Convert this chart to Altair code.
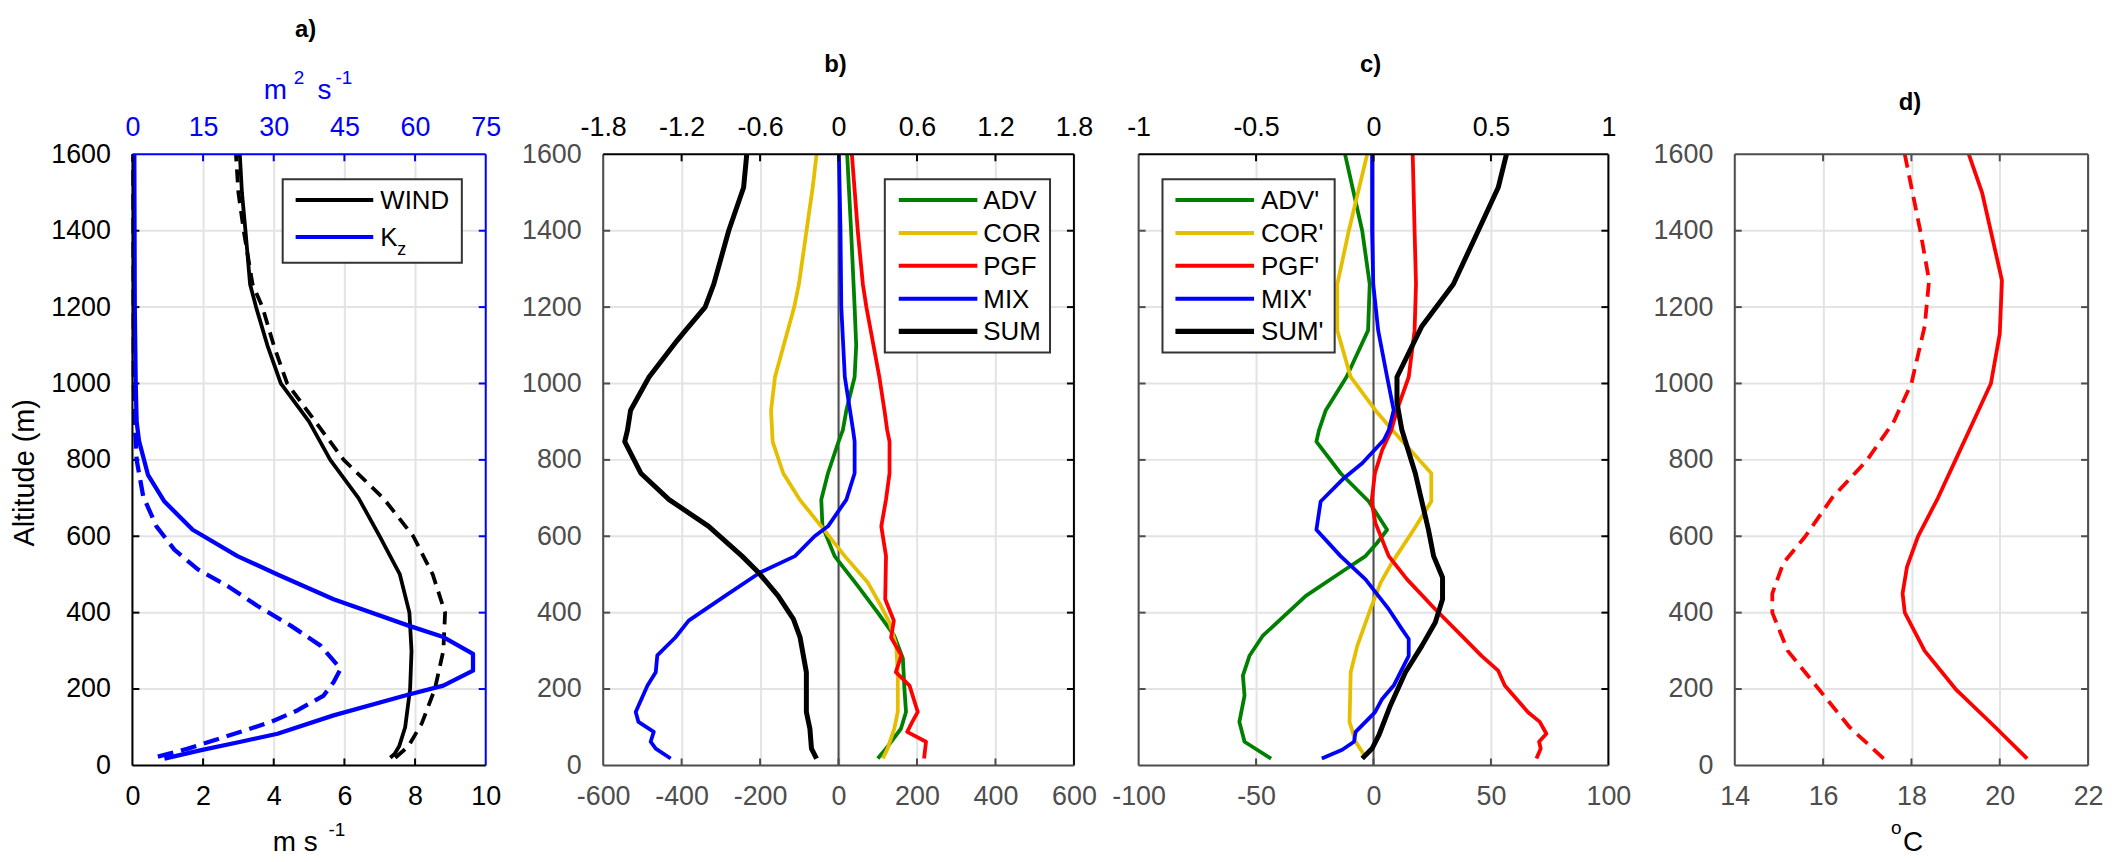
import altair as alt
import pandas as pd

FONT = "Liberation Sans"
H = 614
WA, WB, WC, WD = 355, 473, 472, 355
SP = 65                      # flush spacing between plot areas
PAD_A = 118 - SP             # extra room right of panel a
PAD_C = 127 - SP             # extra room right of panel c
GRAY = "#4d4d4d"
GRID = "#e3e3e3"
BLUE = "#0000ff"
BLACK = "#000000"
GREEN = "#008000"
YELLOW = "#e6be00"
RED = "#ff0000"
LBL = 27
TL = 7

alt_ticks = [0, 200, 400, 600, 800, 1000, 1200, 1400, 1600]

# ---------------- panel a ----------------
wind_alt = [1600, 1500, 1400, 1260, 1200, 1100, 1000, 900, 800, 700, 600, 500, 400, 300, 200, 100, 50, 30, 20]
wind_val = [3.04, 3.1, 3.2, 3.33, 3.5, 3.82, 4.2, 5.0, 5.6, 6.4, 7.0, 7.57, 7.84, 7.9, 7.86, 7.72, 7.55, 7.42, 7.3]
wind2_alt = [1600, 1500, 1400, 1260, 1200, 1100, 1000, 900, 800, 700, 600, 500, 400, 300, 200, 110, 80, 50, 20]
wind2_val = [2.93, 3.0, 3.15, 3.4, 3.68, 4.0, 4.38, 5.18, 5.98, 7.1, 7.95, 8.5, 8.85, 8.8, 8.56, 8.19, 8.0, 7.81, 7.44]
kz_alt = [1600, 1200, 1000, 900, 850, 761, 691, 617, 548, 500, 435, 366, 336, 292, 248, 209, 183, 131, 83, 62, 40, 18]
kz_val = [0.4, 0.5, 0.7, 0.9, 1.4, 3.3, 6.8, 12.8, 22.3, 30.8, 42.7, 58.6, 66, 72.3, 72.3, 66, 57.9, 42.7, 30.8, 23, 14.6, 6.8]
kz2_alt = [1600, 1000, 900, 800, 704, 626, 565, 513, 470, 418, 366, 313, 253, 218, 183, 144, 114, 88, 44, 23]
kz2_val = [0.2, 0.3, 0.5, 0.9, 2.3, 5.1, 8.9, 13.9, 20.2, 26.5, 33.6, 40, 44.2, 42.7, 40.6, 35, 29.4, 23, 11.8, 5.4]
a_bottom_ticks = [0, 2, 4, 6, 8, 10]
a_top_ticks = [0, 15, 30, 45, 60, 75]
a_legend = ["WIND", "K", "z"]

# ---------------- panel b ----------------
b_names = ["ADV", "COR", "PGF", "MIX", "SUM"]
b_adv_alt = [1600, 1400, 1200, 1100, 1017, 930, 878, 848, 765, 696, 626, 548, 470, 400, 340, 280, 200, 140, 96, 44, 18]
b_adv_val = [22, 32, 41, 45, 41, 20, 11, 0, -27, -44, -41, -10, 49, 100, 142, 164, 168, 172, 159, 121, 100]
b_cor_alt = [1600, 1520, 1260, 1200, 1017, 930, 848, 765, 696, 626, 548, 478, 418, 374, 313, 244, 140, 96, 44, 18]
b_cor_val = [-56, -65, -101, -113, -162, -172, -168, -141, -99, -44, 16, 75, 108, 130, 147, 151, 151, 142, 125, 113]
b_pgf_alt = [1600, 1400, 1260, 1200, 1017, 930, 878, 848, 765, 696, 626, 548, 435, 379, 335, 288, 244, 209, 140, 114, 88, 62, 18]
b_pgf_val = [34, 49, 62, 71, 104, 117, 124, 130, 130, 121, 109, 121, 119, 141, 134, 160, 146, 181, 202, 188, 175, 223, 218]
b_mix_alt = [1600, 1400, 1200, 1017, 878, 848, 765, 696, 626, 600, 548, 505, 444, 379, 335, 288, 244, 209, 140, 114, 88, 62, 44, 18]
b_mix_val = [1, 5, 7, 16, 37, 41, 41, 20, -27, -61, -111, -200, -289, -382, -416, -462, -466, -487, -517, -510, -471, -479, -466, -428]
b_sum_alt = [1600, 1513, 1400, 1260, 1200, 1139, 1113, 1017, 930, 878, 848, 765, 696, 626, 548, 505, 444, 383, 335, 244, 140, 96, 44, 18]
b_sum_val = [-234, -242, -280, -318, -340, -390, -411, -483, -530, -538, -545, -504, -432, -331, -246, -204, -154, -115, -98, -82, -82, -73, -69, -56]
b_bottom_ticks = [-600, -400, -200, 0, 200, 400, 600]
b_top_ticks = [-1.8, -1.2, -0.6, 0, 0.6, 1.2, 1.8]

# ---------------- panel c ----------------
c_names = ["ADV'", "COR'", "PGF'", "MIX'", "SUM'"]
c_adv_alt = [1600, 1400, 1260, 1139, 1017, 930, 878, 848, 765, 691, 617, 583, 548, 513, 444, 339, 287, 235, 183, 114, 62, 18]
c_adv_val = [-12.1, -4.8, -1.6, -2.3, -11.5, -20.3, -23.2, -24.3, -14, -2, 5.8, 1.6, -3.4, -12, -28.8, -47.2, -52.8, -55.6, -54.9, -57.1, -54.9, -43.6]
c_cor_alt = [1600, 1400, 1260, 1139, 1017, 930, 878, 765, 691, 617, 531, 478, 409, 313, 244, 114, 62, 22]
c_cor_val = [-2.7, -10.5, -15.4, -15.4, -9.7, 0.8, 8, 24.6, 24.6, 17.1, 7.9, 3, -1.3, -6.9, -9.7, -10.2, -7.6, -3.4]
c_pgf_alt = [1600, 1400, 1260, 1139, 1017, 930, 878, 826, 765, 691, 635, 548, 487, 409, 339, 287, 248, 209, 139, 114, 83, 62, 44, 18]
c_pgf_val = [16.7, 17.5, 18.1, 17.5, 15, 10, 7.6, 3.7, 0.6, -0.8, 0.8, 6.5, 14.3, 26.3, 37.6, 46, 53.1, 55.9, 65.8, 70.8, 73.6, 70.5, 71.2, 69.4]
c_mix_alt = [1600, 1400, 1260, 1139, 1017, 930, 878, 852, 791, 752, 691, 617, 548, 487, 409, 357, 331, 287, 209, 174, 139, 88, 62, 41, 18]
c_mix_val = [-0.6, -0.6, -0.1, 2, 5.8, 8.6, 6.5, 4.4, -4.8, -12.6, -22.5, -24.3, -14, -3.4, 6.5, 12.1, 15, 15, 8.6, 3.7, 0.6, -7.6, -8.3, -13.3, -22]
c_sum_alt = [1600, 1513, 1400, 1260, 1150, 1017, 950, 878, 765, 617, 548, 492, 435, 374, 313, 244, 157, 79, 44, 18]
c_sum_val = [56.6, 53.1, 44.6, 34, 20.6, 10, 10, 12.1, 17.8, 23.4, 25.6, 29.4, 29.4, 26.3, 20.6, 13.6, 7.2, 2.3, -0.6, -4.8]
c_bottom_ticks = [-100, -50, 0, 50, 100]
c_top_ticks = [-1, -0.5, 0, 0.5, 1]

# ---------------- panel d ----------------
d_alt = [1600, 1500, 1270, 1130, 1000, 900, 800, 700, 600, 520, 450, 400, 300, 200, 100, 18]
d_val = [19.3, 19.6, 20.05, 20.0, 19.8, 19.4, 19.0, 18.6, 18.15, 17.9, 17.8, 17.85, 18.3, 19.0, 19.9, 20.62]
d2_alt = [1600, 1400, 1270, 1150, 1000, 900, 800, 700, 600, 530, 450, 400, 300, 200, 100, 18]
d2_val = [17.85, 18.2, 18.4, 18.3, 18.0, 17.6, 17.0, 16.2, 15.6, 15.1, 14.85, 14.85, 15.2, 15.9, 16.6, 17.37]
d_bottom_ticks = [14, 16, 18, 20, 22]

titles = ["a)", "b)", "c)", "d)"]

yscale = alt.Scale(domain=[0, 1600], nice=False, zero=False)


def one():
    return pd.DataFrame({"k": [0]})


def xaxis(orient, values, color, pad, grid):
    return alt.Axis(orient=orient, values=values, labelExpr="'' + datum.value",
                    labelColor=color, labelFont=FONT, labelFontSize=LBL, labelPadding=pad,
                    labelFlush=False, labelOverlap=False, ticks=False, tickSize=0,
                    domain=False, grid=grid, gridColor=GRID, gridWidth=2, title=None)


def yaxis(color):
    return alt.Axis(orient="left", values=alt_ticks, labelExpr="'' + datum.value",
                    labelColor=color, labelFont=FONT, labelFontSize=LBL, labelPadding=22,
                    labelFlush=False, labelOverlap=False, ticks=False, tickSize=0,
                    domain=False, grid=False, title=None)


def line(alts, vals, color, xs, xax, yax, width, dash=None):
    df = pd.DataFrame({"alt": alts, "val": vals})
    kw = dict(color=color, strokeWidth=width, strokeJoin="round")
    if dash:
        kw["strokeDash"] = dash
    return alt.Chart(df).mark_line(**kw).encode(
        x=alt.X("val:Q", scale=xs, axis=xax),
        y=alt.Y("alt:Q", scale=yscale, axis=yax),
        order=alt.Order("alt:Q"),
    )


def xticks(values, side, color, xs, xax):
    df = pd.DataFrame({"v": values})
    m = alt.Chart(df).mark_rule(color=color, strokeWidth=2)
    if side == "bottom":
        return m.encode(x=alt.X("v:Q", scale=xs, axis=xax), y=alt.value(H - TL), y2=alt.value(H))
    return m.encode(x=alt.X("v:Q", scale=xs, axis=xax), y=alt.value(0), y2=alt.value(TL))


def yticks(side, color, w, yax):
    df = pd.DataFrame({"v": alt_ticks[1:-1]})
    m = alt.Chart(df).mark_rule(color=color, strokeWidth=2)
    if side == "left":
        return m.encode(y=alt.Y("v:Q", scale=yscale, axis=yax), x=alt.value(0), x2=alt.value(TL))
    return m.encode(y=alt.Y("v:Q", scale=yscale, axis=yax), x=alt.value(w - TL), x2=alt.value(w))


def hgrid(w, yax):
    df = pd.DataFrame({"v": alt_ticks[1:-1]})
    return alt.Chart(df).mark_rule(color=GRID, strokeWidth=2).encode(
        y=alt.Y("v:Q", scale=yscale, axis=yax), x=alt.value(0), x2=alt.value(w))


def frame(w, left, right, top, bottom):
    r = []
    r.append(alt.Chart(one()).mark_rule(color=left, strokeWidth=2).encode(
        x=alt.value(0), y=alt.value(0), y2=alt.value(H)))
    r.append(alt.Chart(one()).mark_rule(color=right, strokeWidth=2).encode(
        x=alt.value(w), y=alt.value(0), y2=alt.value(H)))
    r.append(alt.Chart(one()).mark_rule(color=top, strokeWidth=2).encode(
        x=alt.value(0), x2=alt.value(w), y=alt.value(0)))
    r.append(alt.Chart(one()).mark_rule(color=bottom, strokeWidth=2).encode(
        x=alt.value(0), x2=alt.value(w), y=alt.value(H)))
    return r


def txt(s, x, y, size, color=BLACK, weight="normal", align="left", baseline="alphabetic", angle=0):
    return alt.Chart(pd.DataFrame({"t": [s]})).mark_text(
        font=FONT, fontSize=size, color=color, fontWeight=weight, align=align,
        baseline=baseline, angle=angle).encode(x=alt.value(x), y=alt.value(y), text="t:N")


def legend(box, items, lx0, lx1, tx, ys, fs=26):
    out = [alt.Chart(one()).mark_rect(fill="white", stroke="#333333", strokeWidth=2).encode(
        x=alt.value(box[0]), x2=alt.value(box[2]), y=alt.value(box[1]), y2=alt.value(box[3]))]
    for (label, color, width), y in zip(items, ys):
        out.append(alt.Chart(one()).mark_rule(color=color, strokeWidth=width).encode(
            x=alt.value(lx0), x2=alt.value(lx1), y=alt.value(y)))
        if label:
            out.append(txt(label, tx, y + 9, fs))
    return out


def zero_line(xs, xax):
    return alt.Chart(pd.DataFrame({"v": [0]})).mark_rule(color=GRAY, strokeWidth=2).encode(
        x=alt.X("v:Q", scale=xs, axis=xax), y=alt.value(0), y2=alt.value(H))


# ================= panel a =================
xa = alt.Scale(domain=[0, 10], nice=False, zero=False, range=[0, WA])
xa_top = alt.Scale(domain=[0, 75], nice=False, zero=False, range=[0, WA])
xa_ax = xaxis("bottom", a_bottom_ticks, BLACK, 18, True)
xa_top_ax = xaxis("top", a_top_ticks, BLUE, 13, False)
ya_ax = yaxis(BLACK)

a_main = alt.layer(
    hgrid(WA, ya_ax),
    line(wind_alt, wind_val, BLACK, xa, xa_ax, ya_ax, 3.8),
    line(wind2_alt, wind2_val, BLACK, xa, xa_ax, ya_ax, 3.8, dash=[13, 8]),
    xticks(a_bottom_ticks[1:-1], "bottom", BLACK, xa, xa_ax),
    yticks("left", BLACK, WA, ya_ax),
)
a_kz = alt.layer(
    line(kz_alt, kz_val, BLUE, xa_top, xa_top_ax, ya_ax, 4.3),
    line(kz2_alt, kz2_val, BLUE, xa_top, xa_top_ax, ya_ax, 4.3, dash=[16, 8]),
    xticks(a_top_ticks[1:-1], "top", BLUE, xa_top, xa_top_ax),
    yticks("right", BLUE, WA, ya_ax),
)
a_deco = alt.layer(
    *frame(WA, BLACK, BLUE, BLUE, BLACK),
    *legend((151, 25, 331, 109), [("WIND", BLACK, 4), ("", BLUE, 4)], 164, 242, 249, [46, 83]),
    txt(a_legend[1], 249, 92, 26),
    txt(a_legend[2], 266, 101, 18),
    txt(titles[0], 174, -118, 24, weight="bold", align="center"),
    txt("m", 132, -56, 28, color=BLUE),
    txt("2", 162, -71, 19, color=BLUE),
    txt("s", 186, -56, 28, color=BLUE),
    txt("-1", 204, -71, 19, color=BLUE),
    txt("m s", 141, 700, 28),
    txt("-1", 197, 685, 19),
    txt("Altitude (m)", -108, 320, 29, align="center", baseline="middle", angle=270),
)
panel_a = alt.layer(a_main, a_kz, a_deco).resolve_scale(x="independent").properties(
    width=WA + PAD_A, height=H)

# ================= panel b / c =================
B_COLORS = [GREEN, YELLOW, RED, BLUE, BLACK]
B_WIDTHS = [3.8, 3.8, 3.8, 3.8, 5.0]


def flux_panel(w, full_w, dom, dom_top, series, names, bottom_ticks, top_ticks, ylabels,
               legend_box, lx0, lx1, tx, title):
    xs = alt.Scale(domain=dom, nice=False, zero=False, range=[0, w])
    xs_top = alt.Scale(domain=dom_top, nice=False, zero=False, range=[0, w])
    xax = xaxis("bottom", bottom_ticks, GRAY, 18, True)
    xax_top = xaxis("top", top_ticks, BLACK, 13, False)
    yax = yaxis(GRAY) if ylabels else None
    lines = [line(al, va, c, xs, xax, yax, sw)
             for (al, va), c, sw in zip(series, B_COLORS, B_WIDTHS)]
    main = alt.layer(
        hgrid(w, yax),
        zero_line(xs, xax),
        *lines,
        xticks(bottom_ticks[1:-1], "bottom", GRAY, xs, xax),
        yticks("left", GRAY, w, yax),
        yticks("right", BLACK, w, yax),
    )
    top = xticks(top_ticks[1:-1], "top", BLACK, xs_top, xax_top)
    ys = [46, 79, 112, 145, 178]
    items = [(n, c, 4 if c != BLACK else 5.3) for n, c in zip(names, B_COLORS)]
    deco = alt.layer(
        *frame(w, GRAY, BLACK, BLACK, GRAY),
        *legend(legend_box, items, lx0, lx1, tx, ys),
        txt(title, w / 2 - 3, -83, 24, weight="bold", align="center"),
    )
    return alt.layer(main, top, deco).resolve_scale(x="independent").properties(
        width=full_w, height=H)


panel_b = flux_panel(
    WB, WB, [-600, 600], [-1.8, 1.8],
    [(b_adv_alt, b_adv_val), (b_cor_alt, b_cor_val), (b_pgf_alt, b_pgf_val),
     (b_mix_alt, b_mix_val), (b_sum_alt, b_sum_val)],
    b_names, b_bottom_ticks, b_top_ticks, True, (283, 25, 449, 199), 297, 376, 382, titles[1])

panel_c = flux_panel(
    WC, WC + PAD_C, [-100, 100], [-1, 1],
    [(c_adv_alt, c_adv_val), (c_cor_alt, c_cor_val), (c_pgf_alt, c_pgf_val),
     (c_mix_alt, c_mix_val), (c_sum_alt, c_sum_val)],
    c_names, c_bottom_ticks, c_top_ticks, False, (24, 25, 197, 199), 37, 116, 123, titles[2])

# ================= panel d =================
xd = alt.Scale(domain=[14, 22], nice=False, zero=False, range=[0, WD])
xd_ax = xaxis("bottom", d_bottom_ticks, GRAY, 18, True)
yd_ax = yaxis(GRAY)
panel_d = alt.layer(
    hgrid(WD, yd_ax),
    line(d_alt, d_val, RED, xd, xd_ax, yd_ax, 3.8),
    line(d2_alt, d2_val, RED, xd, xd_ax, yd_ax, 3.8, dash=[14, 8]),
    xticks(d_bottom_ticks[1:-1], "bottom", GRAY, xd, xd_ax),
    xticks(d_bottom_ticks[1:-1], "top", GRAY, xd, xd_ax),
    yticks("left", GRAY, WD, yd_ax),
    yticks("right", GRAY, WD, yd_ax),
    *frame(WD, GRAY, GRAY, GRAY, GRAY),
    txt(titles[3], 176, -45, 24, weight="bold", align="center"),
    txt("o", 157, 683, 19),
    txt("C", 169, 700, 28),
).properties(width=WD, height=H)

chart = alt.hconcat(
    panel_a, panel_b, panel_c, panel_d, spacing=SP, bounds="flush",
).properties(padding={"left": 3, "top": 8, "right": 0, "bottom": 0}).configure_view(stroke=None)

chart.save("out.html", embed_options={"renderer": "svg", "actions": False})
